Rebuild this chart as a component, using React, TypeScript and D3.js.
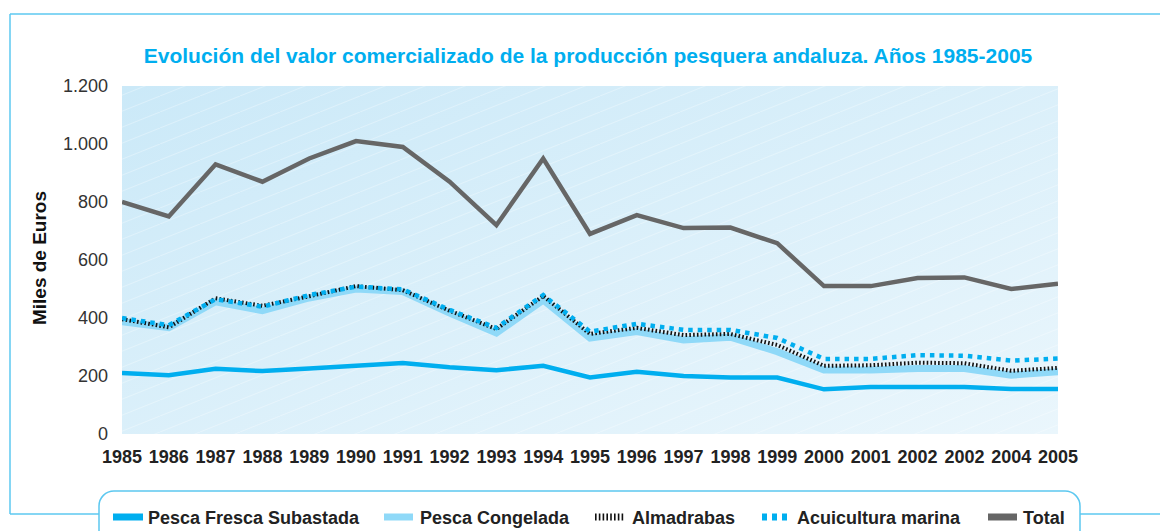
import React from 'react';
import * as d3 from 'd3';

const years = ['1985', '1986', '1987', '1988', '1989', '1990', '1991', '1992', '1993', '1994', '1995', '1996', '1997', '1998', '1999', '2000', '2001', '2002', '2002', '2004', '2005'];

const total = [800, 750, 930, 870, 950, 1010, 990, 870, 720, 950, 690, 755, 710, 712, 658, 510, 510, 538, 540, 500, 518];
const pescaFresca = [210, 203, 225, 217, 226, 235, 245, 230, 220, 235, 195, 215, 200, 195, 195, 154, 162, 162, 162, 155, 155];
const pescaCongelada = [387, 367, 456, 425, 469, 500, 491, 417, 348, 462, 331, 353, 324, 334, 284, 221, 221, 226, 226, 203, 215];
const almadrabas = [396, 368, 468, 442, 475, 510, 496, 425, 362, 476, 345, 366, 341, 345, 307, 235, 237, 246, 244, 218, 228];
const acuicultura = [400, 375, 465, 439, 479, 508, 499, 428, 366, 479, 353, 380, 359, 359, 331, 259, 259, 272, 270, 253, 260];

const yTicks = [0, 200, 400, 600, 800, 1000, 1200];

const BLUE = '#00aeef';
const LIGHT_BLUE = '#8fd9f8';
const GRAY = '#666666';
const FRAME = '#5cc8f0';
const FONT = '"Liberation Sans", Arial, sans-serif';

const esLocale = d3.formatLocale({ decimal: ',', thousands: '.', grouping: [3], currency: ['', '€'] });
const fmt = esLocale.format(',d');

const App = () => {
  const width = 1160;
  const height = 531;
  const left = 122;
  const right = 1058;
  const top = 86;
  const bottom = 434;

  const x = d3.scaleLinear().domain([0, years.length - 1]).range([left, right]);
  const y = d3.scaleLinear().domain([0, 1200]).range([bottom, top]);

  const line = d3.line<number>()
    .x((d, i) => x(i))
    .y(d => y(d));

  // orden de dibujo: total abajo, acuicultura encima de todo
  const series = [
    { values: total, stroke: GRAY, width: 4.5, dash: null },
    { values: pescaFresca, stroke: BLUE, width: 4.5, dash: null },
    { values: pescaCongelada, stroke: LIGHT_BLUE, width: 7, dash: null },
    { values: almadrabas, stroke: '#111', width: 4, dash: '1.6 2.2' },
    { values: acuicultura, stroke: BLUE, width: 4.5, dash: '4.5 5' },
  ];

  const legendY = 517;

  return (
    <div>
      <style>{`body{margin:0}`}</style>
      <svg width={width} height={height} style={{ display: 'block', fontFamily: FONT }}>
        <defs>
          <linearGradient id="bg" x1="0" y1="0" x2="1" y2="1">
            <stop offset="0%" stopColor="#cbe9f8" />
            <stop offset="100%" stopColor="#eaf6fc" />
          </linearGradient>
          <pattern id="stripes" width="40" height="16" patternUnits="userSpaceOnUse">
            <line x1="0" y1="16" x2="40" y2="0" stroke="#ffffff" strokeOpacity="0.4" strokeWidth="0.8" />
          </pattern>
          <clipPath id="plotClip">
            <rect x={left} y={top} width={right - left} height={bottom - top} />
          </clipPath>
        </defs>

        {/* marco exterior */}
        <g stroke={FRAME} strokeWidth={1.5} fill="none">
          <line x1={10} y1={14} x2={width} y2={14} />
          <line x1={10} y1={14} x2={10} y2={514} />
          <line x1={10} y1={514} x2={99} y2={514} />
          <line x1={1080} y1={514} x2={width} y2={514} />
          <rect x={99} y={491} width={981} height={60} rx={15} ry={15} fill="#fff" />
        </g>

        <text x={588} y={63} textAnchor="middle" fill={BLUE} fontWeight="bold" fontSize={21}>
          Evolución del valor comercializado de la producción pesquera andaluza. Años 1985-2005
        </text>

        {/* fondo del área de trazado */}
        <rect x={left} y={top} width={right - left} height={bottom - top} fill="url(#bg)" />
        <rect x={left} y={top} width={right - left} height={bottom - top} fill="url(#stripes)" />

        {/* eje Y */}
        {yTicks.map(t => (
          <text key={t} x={108} y={y(t) + 6} textAnchor="end" fontSize={18} fill="#333">
            {fmt(t)}
          </text>
        ))}
        <text
          transform={`translate(46, ${(top + bottom) / 2 - 2}) rotate(-90)`}
          textAnchor="middle"
          fontWeight="bold"
          fontSize={19}
          fill="#111"
        >
          Miles de Euros
        </text>

        {/* eje X */}
        {years.map((yr, i) => (
          <text key={i} x={x(i)} y={463} textAnchor="middle" fontWeight="bold" fontSize={18} fill="#222">
            {yr}
          </text>
        ))}

        {/* series */}
        <g clipPath="url(#plotClip)" fill="none">
          {series.map((s, i) => (
            <path
              key={i}
              d={line(s.values) || ''}
              stroke={s.stroke}
              strokeWidth={s.width}
              strokeDasharray={s.dash || undefined}
              strokeLinejoin="miter"
            />
          ))}
        </g>

        {/* leyenda */}
        <g fontWeight="bold" fontSize={18} fill="#222">
          <rect x={113} y={legendY - 3.5} width={30} height={7} fill={BLUE} />
          <text x={148} y={legendY + 6.5}>Pesca Fresca Subastada</text>

          <rect x={384} y={legendY - 3.5} width={29} height={7} fill={LIGHT_BLUE} />
          <text x={420} y={legendY + 6.5}>Pesca Congelada</text>

          <line x1={595} y1={legendY} x2={624} y2={legendY} stroke="#111" strokeWidth={7} strokeDasharray="1.6 2.2" />
          <text x={632} y={legendY + 6.5}>Almadrabas</text>

          <line x1={762} y1={legendY} x2={790} y2={legendY} stroke={BLUE} strokeWidth={7} strokeDasharray="5 5" />
          <text x={797} y={legendY + 6.5}>Acuicultura marina</text>

          <rect x={988} y={legendY - 3.5} width={29} height={7} fill={GRAY} />
          <text x={1023} y={legendY + 6.5}>Total</text>
        </g>
      </svg>
    </div>
  );
};

export default App;
